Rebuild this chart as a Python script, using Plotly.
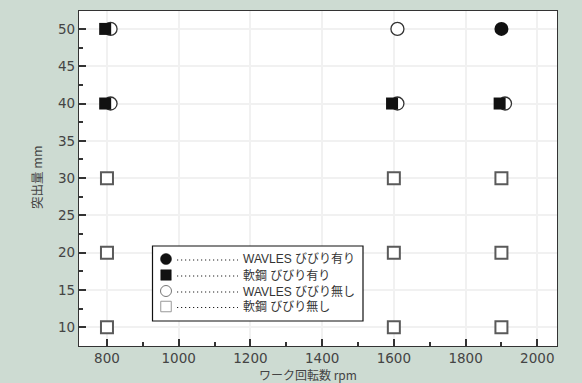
import plotly.graph_objects as go

# Data
fill_circle_x = [1900]
fill_circle_y = [50]
fill_square_x = [795, 795, 1595, 1895]
fill_square_y = [50, 40, 40, 40]
open_circle_x = [810, 810, 1610, 1610, 1910]
open_circle_y = [50, 40, 50, 40, 40]
open_square_x = [800, 800, 800, 1600, 1600, 1600, 1900, 1900, 1900]
open_square_y = [30, 20, 10, 30, 20, 10, 30, 20, 10]

names = ["WAVLES びびり有り", "軟鋼 びびり有り", "WAVLES びびり無し", "軟鋼 びびり無し"]

x_ticks = [800, 1000, 1200, 1400, 1600, 1800, 2000]
y_ticks = [10, 15, 20, 25, 30, 35, 40, 45, 50]

W, H = 582, 383
ML, MR, MT, MB = 79, 25, 11, 37
PW, PH = W - ML - MR, H - MT - MB


def fx(px):
    return (px - ML) / PW


def fy(py):
    return (H - MB - py) / PH


fig = go.Figure()
fig.add_trace(go.Scatter(x=open_square_x, y=open_square_y, mode="markers", name=names[3],
                         marker=dict(symbol="square", size=12, color="white",
                                     line=dict(color="#5a5a5a", width=2))))
fig.add_trace(go.Scatter(x=open_circle_x, y=open_circle_y, mode="markers", name=names[2],
                         marker=dict(symbol="circle", size=13, color="white",
                                     line=dict(color="#333333", width=1.3))))
fig.add_trace(go.Scatter(x=fill_circle_x, y=fill_circle_y, mode="markers", name=names[0],
                         marker=dict(symbol="circle", size=14, color="#111111",
                                     line=dict(color="#111111", width=0))))
fig.add_trace(go.Scatter(x=fill_square_x, y=fill_square_y, mode="markers", name=names[1],
                         marker=dict(symbol="square", size=12, color="#111111",
                                     line=dict(color="#111111", width=0))))

tickfont = dict(family="DejaVu Sans, sans-serif", size=13.5, color="#444444")
axis_common = dict(showline=True, linecolor="#333333", linewidth=1.2, mirror=True,
                   ticks="inside", ticklen=7, tickcolor="#333333", tickwidth=1.5,
                   showgrid=True, gridcolor="#f1f1f1", gridwidth=1.5, zeroline=False,
                   automargin=False, tickfont=tickfont)

fig.update_xaxes(range=[722, 2055], tickvals=x_ticks, ticktext=[str(v) for v in x_ticks],
                 minor=dict(dtick=100, tick0=0, ticks="inside", ticklen=4, tickcolor="#333333",
                            tickwidth=1.5, showgrid=False),
                 **axis_common)
fig.update_yaxes(range=[7.5, 52.4], tickvals=y_ticks, ticktext=[str(v) for v in y_ticks],
                 minor=dict(dtick=2.5, tick0=0, ticks="inside", ticklen=4, tickcolor="#333333",
                            tickwidth=1.5, showgrid=False),
                 **axis_common)

shapes = []
annotations = []

# Axis titles
annotations.append(dict(text="ワーク回転数 rpm", xref="paper", yref="paper", x=fx(308), y=fy(374.5),
                        xanchor="center", yanchor="middle", showarrow=False,
                        font=dict(family="Noto Sans CJK JP", size=12, color="#444444")))
annotations.append(dict(text="突出量 mm", xref="paper", yref="paper", x=fx(36), y=fy(178),
                        xanchor="center", yanchor="middle", showarrow=False, textangle=-90,
                        font=dict(family="Noto Sans CJK JP", size=12.5, color="#444444")))

# Manual legend box
shapes.append(dict(type="rect", xref="paper", yref="paper", x0=fx(152.5), x1=fx(363),
                   y0=fy(321), y1=fy(246), fillcolor="white", line=dict(color="#111111", width=1.2),
                   layer="above"))
row_y = [259, 275, 291, 306.5]
sym_x = 166
legend_syms = [
    dict(type="circle", size=11, fill="#111111", line="#111111", lw=0.5),
    dict(type="rect", size=10.5, fill="#111111", line="#111111", lw=0.5),
    dict(type="circle", size=11, fill="white", line="#777777", lw=1),
    dict(type="rect", size=10.5, fill="white", line="#999999", lw=1),
]
for i, (name, ry, s) in enumerate(zip(names, row_y, legend_syms)):
    h = s["size"] / 2
    shapes.append(dict(type=s["type"], xref="paper", yref="paper",
                       x0=fx(sym_x - h), x1=fx(sym_x + h), y0=fy(ry + h), y1=fy(ry - h),
                       fillcolor=s["fill"], line=dict(color=s["line"], width=s["lw"]), layer="above"))
    shapes.append(dict(type="line", xref="paper", yref="paper",
                       x0=fx(177), x1=fx(238), y0=fy(ry + 1), y1=fy(ry + 1),
                       line=dict(color="#222222", width=1.2, dash="1.2px,2.8px"), layer="above"))
    annotations.append(dict(text=name, xref="paper", yref="paper", x=fx(241), y=fy(ry),
                            xanchor="left", yanchor="middle", showarrow=False,
                            font=dict(family="Liberation Sans, Noto Sans CJK JP, sans-serif",
                                      size=12, color="#333333")))

fig.update_layout(
    width=W, height=H,
    margin=dict(l=ML, r=MR, t=MT, b=MB),
    paper_bgcolor="#cddbd2", plot_bgcolor="white",
    showlegend=False,
    shapes=shapes,
    annotations=annotations,
)

fig.write_html("out.html", config={"displayModeBar": False},
               post_script="document.body.style.margin='0';document.body.style.overflow='hidden';")
